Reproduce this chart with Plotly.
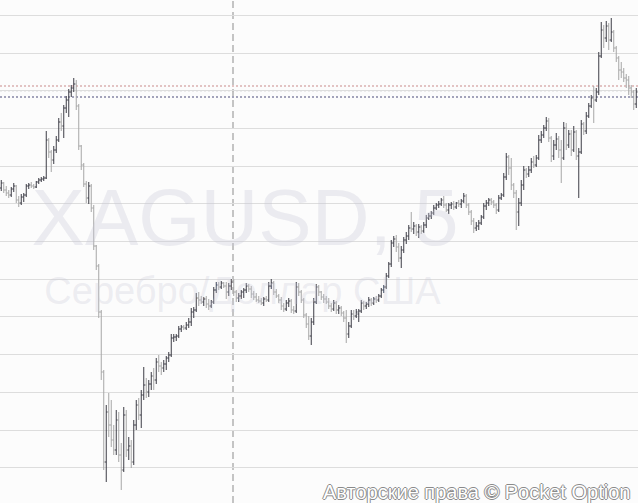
import plotly.graph_objects as go

# ---- data (XAGUSD, 5-minute bars) ----
bar_index = list(range(255))

open_ = [
    23.812, 23.817, 23.810, 23.807, 23.805, 23.811, 23.814, 23.800, 23.797, 23.803,
    23.805, 23.814, 23.815, 23.814, 23.813, 23.818, 23.820, 23.821, 23.822, 23.860,
    23.848, 23.840, 23.850, 23.860, 23.878, 23.874, 23.892, 23.900, 23.908, 23.912,
    23.916, 23.894, 23.854, 23.835, 23.816, 23.802, 23.814, 23.792, 23.754, 23.734,
    23.688, 23.628, 23.538, 23.588, 23.575, 23.560, 23.550, 23.580, 23.545, 23.530,
    23.585, 23.550, 23.554, 23.538, 23.575, 23.595, 23.585, 23.605, 23.615, 23.608,
    23.616, 23.624, 23.620, 23.638, 23.634, 23.632, 23.636, 23.642, 23.645, 23.662,
    23.663, 23.664, 23.671, 23.673, 23.672, 23.675, 23.678, 23.688, 23.690, 23.702,
    23.700, 23.698, 23.701, 23.696, 23.694, 23.698, 23.710, 23.715, 23.713, 23.717,
    23.714, 23.708, 23.714, 23.718, 23.708, 23.702, 23.704, 23.708, 23.710, 23.714,
    23.711, 23.706, 23.703, 23.700, 23.699, 23.697, 23.701, 23.700, 23.714, 23.717,
    23.708, 23.704, 23.700, 23.694, 23.691, 23.697, 23.699, 23.690, 23.689, 23.713,
    23.708, 23.700, 23.685, 23.676, 23.664, 23.678, 23.698, 23.713, 23.708, 23.703,
    23.701, 23.698, 23.694, 23.691, 23.697, 23.690, 23.692, 23.687, 23.682, 23.666,
    23.674, 23.686, 23.684, 23.686, 23.689, 23.697, 23.694, 23.696, 23.700, 23.697,
    23.701, 23.700, 23.704, 23.710, 23.713, 23.724, 23.736, 23.757, 23.761, 23.753,
    23.742, 23.750, 23.760, 23.764, 23.772, 23.771, 23.774, 23.768, 23.773, 23.769,
    23.775, 23.782, 23.784, 23.787, 23.792, 23.795, 23.796, 23.800, 23.795, 23.790,
    23.795, 23.796, 23.793, 23.797, 23.796, 23.799, 23.804, 23.795, 23.788, 23.779,
    23.772, 23.774, 23.777, 23.783, 23.794, 23.797, 23.800, 23.798, 23.795, 23.790,
    23.802, 23.805, 23.823, 23.843, 23.832, 23.815, 23.807, 23.788, 23.797, 23.815,
    23.830, 23.826, 23.830, 23.838, 23.835, 23.842, 23.860, 23.865, 23.872, 23.879,
    23.862, 23.844, 23.855, 23.861, 23.850, 23.842, 23.872, 23.855, 23.866, 23.850,
    23.868, 23.844, 23.848, 23.876, 23.869, 23.884, 23.894, 23.902, 23.900, 23.908,
    23.944, 23.970, 23.962, 23.974, 23.960, 23.968, 23.952, 23.942, 23.930, 23.928,
    23.922, 23.920, 23.912, 23.908, 23.896,
]

high = [
    23.820, 23.818, 23.814, 23.810, 23.813, 23.817, 23.815, 23.804, 23.806, 23.807,
    23.816, 23.817, 23.818, 23.816, 23.819, 23.822, 23.823, 23.824, 23.869, 23.862,
    23.850, 23.854, 23.864, 23.882, 23.887, 23.895, 23.904, 23.911, 23.915, 23.922,
    23.920, 23.896, 23.855, 23.837, 23.819, 23.818, 23.816, 23.795, 23.755, 23.736,
    23.690, 23.630, 23.595, 23.607, 23.600, 23.575, 23.590, 23.588, 23.557, 23.593,
    23.590, 23.563, 23.560, 23.580, 23.600, 23.602, 23.610, 23.633, 23.622, 23.620,
    23.628, 23.632, 23.642, 23.645, 23.638, 23.640, 23.644, 23.648, 23.666, 23.666,
    23.666, 23.674, 23.675, 23.675, 23.678, 23.682, 23.692, 23.693, 23.707, 23.708,
    23.704, 23.703, 23.704, 23.701, 23.700, 23.713, 23.718, 23.718, 23.719, 23.718,
    23.718, 23.717, 23.721, 23.721, 23.710, 23.707, 23.710, 23.712, 23.717, 23.716,
    23.714, 23.709, 23.707, 23.704, 23.702, 23.703, 23.704, 23.718, 23.721, 23.719,
    23.711, 23.706, 23.703, 23.697, 23.700, 23.702, 23.701, 23.694, 23.718, 23.717,
    23.710, 23.702, 23.687, 23.684, 23.682, 23.702, 23.716, 23.715, 23.709, 23.706,
    23.704, 23.702, 23.697, 23.700, 23.699, 23.695, 23.694, 23.689, 23.690, 23.678,
    23.690, 23.690, 23.691, 23.691, 23.700, 23.699, 23.698, 23.703, 23.702, 23.703,
    23.704, 23.706, 23.712, 23.715, 23.727, 23.738, 23.760, 23.764, 23.765, 23.757,
    23.754, 23.763, 23.768, 23.775, 23.788, 23.778, 23.776, 23.776, 23.775, 23.778,
    23.785, 23.787, 23.789, 23.795, 23.797, 23.799, 23.802, 23.804, 23.797, 23.797,
    23.798, 23.799, 23.798, 23.800, 23.801, 23.807, 23.806, 23.797, 23.790, 23.782,
    23.778, 23.780, 23.785, 23.797, 23.800, 23.802, 23.802, 23.800, 23.797, 23.805,
    23.807, 23.827, 23.847, 23.845, 23.842, 23.817, 23.810, 23.802, 23.820, 23.834,
    23.832, 23.834, 23.842, 23.844, 23.845, 23.865, 23.869, 23.875, 23.883, 23.882,
    23.864, 23.860, 23.867, 23.864, 23.860, 23.878, 23.877, 23.870, 23.870, 23.874,
    23.870, 23.852, 23.880, 23.878, 23.888, 23.897, 23.905, 23.914, 23.912, 23.948,
    23.978, 23.975, 23.979, 23.977, 23.982, 23.970, 23.954, 23.944, 23.938, 23.932,
    23.926, 23.924, 23.915, 23.910, 23.912,
]

low = [
    23.809, 23.807, 23.804, 23.802, 23.803, 23.808, 23.797, 23.793, 23.795, 23.798,
    23.803, 23.811, 23.812, 23.811, 23.812, 23.816, 23.818, 23.819, 23.821, 23.842,
    23.828, 23.836, 23.847, 23.858, 23.869, 23.862, 23.887, 23.883, 23.903, 23.908,
    23.890, 23.850, 23.830, 23.813, 23.797, 23.796, 23.788, 23.750, 23.730, 23.682,
    23.620, 23.530, 23.518, 23.563, 23.553, 23.545, 23.545, 23.538, 23.510, 23.528,
    23.543, 23.540, 23.532, 23.535, 23.570, 23.580, 23.572, 23.600, 23.602, 23.603,
    23.610, 23.610, 23.616, 23.628, 23.625, 23.628, 23.630, 23.638, 23.643, 23.658,
    23.659, 23.662, 23.668, 23.670, 23.670, 23.672, 23.674, 23.682, 23.688, 23.694,
    23.696, 23.694, 23.692, 23.690, 23.692, 23.696, 23.707, 23.710, 23.711, 23.712,
    23.701, 23.704, 23.710, 23.704, 23.698, 23.698, 23.701, 23.702, 23.707, 23.708,
    23.702, 23.700, 23.698, 23.697, 23.695, 23.694, 23.698, 23.698, 23.711, 23.705,
    23.702, 23.697, 23.690, 23.688, 23.689, 23.693, 23.687, 23.686, 23.687, 23.704,
    23.697, 23.682, 23.672, 23.660, 23.655, 23.675, 23.696, 23.704, 23.700, 23.697,
    23.696, 23.691, 23.688, 23.689, 23.686, 23.686, 23.684, 23.678, 23.657, 23.662,
    23.672, 23.680, 23.682, 23.678, 23.687, 23.690, 23.691, 23.693, 23.694, 23.695,
    23.697, 23.698, 23.702, 23.707, 23.711, 23.722, 23.733, 23.753, 23.748, 23.738,
    23.732, 23.747, 23.756, 23.760, 23.768, 23.766, 23.764, 23.762, 23.766, 23.767,
    23.772, 23.780, 23.781, 23.785, 23.790, 23.792, 23.794, 23.792, 23.788, 23.786,
    23.791, 23.790, 23.791, 23.793, 23.792, 23.797, 23.792, 23.785, 23.775, 23.767,
    23.769, 23.770, 23.775, 23.781, 23.790, 23.794, 23.795, 23.792, 23.786, 23.788,
    23.800, 23.803, 23.820, 23.825, 23.810, 23.802, 23.770, 23.774, 23.794, 23.810,
    23.822, 23.823, 23.827, 23.832, 23.833, 23.840, 23.857, 23.862, 23.869, 23.858,
    23.838, 23.840, 23.850, 23.842, 23.817, 23.840, 23.850, 23.852, 23.844, 23.848,
    23.840, 23.802, 23.846, 23.865, 23.866, 23.882, 23.892, 23.877, 23.898, 23.905,
    23.942, 23.952, 23.958, 23.950, 23.958, 23.948, 23.938, 23.920, 23.922, 23.918,
    23.912, 23.905, 23.902, 23.890, 23.892,
]

close = [
    23.817, 23.810, 23.807, 23.805, 23.811, 23.814, 23.800, 23.797, 23.803, 23.805,
    23.814, 23.815, 23.814, 23.813, 23.818, 23.820, 23.821, 23.822, 23.860, 23.848,
    23.840, 23.850, 23.860, 23.878, 23.874, 23.892, 23.900, 23.908, 23.912, 23.916,
    23.894, 23.854, 23.835, 23.816, 23.802, 23.814, 23.792, 23.754, 23.734, 23.688,
    23.628, 23.538, 23.588, 23.575, 23.560, 23.550, 23.580, 23.545, 23.530, 23.585,
    23.550, 23.554, 23.538, 23.575, 23.595, 23.585, 23.605, 23.615, 23.608, 23.616,
    23.624, 23.620, 23.638, 23.634, 23.632, 23.636, 23.642, 23.645, 23.662, 23.663,
    23.664, 23.671, 23.673, 23.672, 23.675, 23.678, 23.688, 23.690, 23.702, 23.700,
    23.698, 23.701, 23.696, 23.694, 23.698, 23.710, 23.715, 23.713, 23.717, 23.714,
    23.708, 23.714, 23.718, 23.708, 23.702, 23.704, 23.708, 23.710, 23.714, 23.711,
    23.706, 23.703, 23.700, 23.699, 23.697, 23.701, 23.700, 23.714, 23.717, 23.708,
    23.704, 23.700, 23.694, 23.691, 23.697, 23.699, 23.690, 23.689, 23.713, 23.708,
    23.700, 23.685, 23.676, 23.664, 23.678, 23.698, 23.713, 23.708, 23.703, 23.701,
    23.698, 23.694, 23.691, 23.697, 23.690, 23.692, 23.687, 23.682, 23.666, 23.674,
    23.686, 23.684, 23.688, 23.689, 23.697, 23.694, 23.696, 23.700, 23.697, 23.701,
    23.700, 23.704, 23.710, 23.713, 23.724, 23.736, 23.757, 23.761, 23.753, 23.742,
    23.750, 23.760, 23.764, 23.772, 23.771, 23.774, 23.768, 23.773, 23.769, 23.775,
    23.782, 23.784, 23.787, 23.792, 23.795, 23.796, 23.800, 23.795, 23.790, 23.795,
    23.796, 23.793, 23.797, 23.796, 23.799, 23.804, 23.795, 23.788, 23.779, 23.772,
    23.774, 23.777, 23.783, 23.794, 23.797, 23.800, 23.798, 23.795, 23.790, 23.802,
    23.805, 23.823, 23.843, 23.832, 23.815, 23.807, 23.788, 23.797, 23.815, 23.830,
    23.826, 23.830, 23.838, 23.835, 23.842, 23.860, 23.865, 23.872, 23.879, 23.862,
    23.844, 23.855, 23.861, 23.850, 23.842, 23.872, 23.855, 23.866, 23.850, 23.868,
    23.844, 23.848, 23.876, 23.869, 23.884, 23.894, 23.902, 23.900, 23.908, 23.944,
    23.970, 23.962, 23.974, 23.960, 23.968, 23.952, 23.942, 23.930, 23.928, 23.922,
    23.920, 23.912, 23.908, 23.896, 23.908,
]

symbol_label = "XAGUSD, 5"
name_label = "Серебро/Доллар США"
copyright_label = "Авторские права © Pocket Option"

# horizontal price levels (dotted) and their colours
level_prices = [23.914, 23.9093, 23.903]
level_colors = ["#c98a8a", "#a9a9a9", "#4a4a78"]
marker_bar = 92.7          # vertical dashed time marker

# price axis settings
y_range = [23.497, 24.000]
grid_start = 23.9847
grid_step = 0.0377

n = len(bar_index)
assert len(open_) == n and len(high) == n and len(low) == n and len(close) == n, (
    len(open_), len(high), len(low), len(close))

FONT = "Liberation Sans, Arial, sans-serif"
BG = "#fcfcfc"

fig = go.Figure()

# watermark (drawn first so the bars sit on top)
fig.add_trace(go.Scatter(
    x=[97.5], y=[23.775], mode="text", text=[symbol_label],
    textfont=dict(family=FONT, size=80, color="rgba(200,200,215,0.32)"),
    hoverinfo="skip", showlegend=False, cliponaxis=False))
fig.add_trace(go.Scatter(
    x=[96.5], y=[23.706], mode="text", text=[name_label],
    textfont=dict(family=FONT, size=38, color="rgba(200,200,215,0.30)"),
    hoverinfo="skip", showlegend=False, cliponaxis=False))

fig.add_trace(go.Ohlc(
    x=bar_index, open=open_, high=high, low=low, close=close,
    increasing=dict(line=dict(color="#3c3c46", width=1)),
    decreasing=dict(line=dict(color="#a6a6a6", width=1)),
    tickwidth=0.5, showlegend=False, hoverinfo="skip"))

shapes = []
# hide the grid line beneath the middle level
shapes.append(dict(type="line", xref="paper", x0=0, x1=1, yref="y",
                   y0=level_prices[1], y1=level_prices[1],
                   line=dict(color=BG, width=2), layer="between"))
for p, c in zip(level_prices, level_colors):
    shapes.append(dict(type="line", xref="paper", x0=0, x1=1, yref="y",
                       y0=p, y1=p, line=dict(color=c, width=1, dash="2px,2px"),
                       layer="between"))
shapes.append(dict(type="line", xref="x", x0=marker_bar, x1=marker_bar,
                   yref="paper", y0=0, y1=1,
                   line=dict(color="#8c8c8c", width=1, dash="7px,4px"),
                   layer="between"))

fig.update_layout(
    width=638, height=503,
    margin=dict(l=0, r=0, t=0, b=0, pad=0),
    paper_bgcolor=BG, plot_bgcolor=BG,
    showlegend=False,
    shapes=shapes,
    xaxis=dict(range=[-0.5, 254.7], showgrid=False, zeroline=False,
               showticklabels=False, ticks="", showline=False,
               rangeslider=dict(visible=False), fixedrange=True),
    yaxis=dict(range=y_range, tickmode="linear", tick0=grid_start, dtick=grid_step,
               showgrid=True, gridcolor="#dddddd", gridwidth=1,
               zeroline=False, showticklabels=False, ticks="", showline=False,
               fixedrange=True),
    annotations=[dict(
        text=copyright_label, xref="paper", yref="paper",
        x=0.991, y=0.021, xanchor="right", yanchor="middle", showarrow=False,
        font=dict(family=FONT, size=20, color="#ffffff",
                  shadow="-1px 0 0 #8a8a8a, 1px 0 0 #8a8a8a, 0 -1px 0 #8a8a8a, 0 1px 0 #8a8a8a"),
    )],
)

fig.write_html("out.html", config={"displayModeBar": False},
               post_script="document.body.style.margin='0';document.body.style.overflow='hidden';")
